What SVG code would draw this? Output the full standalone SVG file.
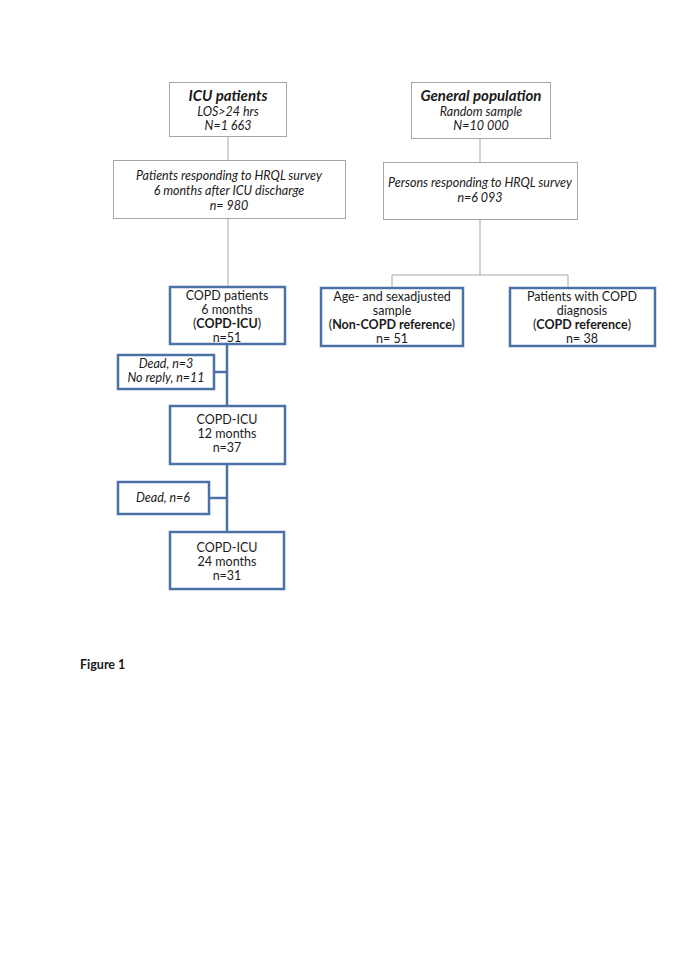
<svg xmlns="http://www.w3.org/2000/svg" width="685" height="969" viewBox="0 0 685 969">
<style>
text{font-family:Lato,"Open Sans","Liberation Sans",sans-serif;font-size:12.5px;fill:#1a1a1a;text-anchor:middle}
.i{font-style:italic}
.b{font-weight:bold}
.h{font-size:15px}
.g{fill:#fff;stroke:#a6a6a6;stroke-width:1}
.bl{fill:#fff;stroke:#4a72a6;stroke-width:2.5}
.cg{stroke:#a6a6a6;stroke-width:1;fill:none}
.cb{stroke:#4a72a6;stroke-width:2.5;fill:none}
</style>
<rect width="685" height="969" fill="#fff"/>
<g id="connectors">
<path class="cg" d="M228 136V160M228 218V287"/>
<path class="cg" d="M480 138V162M480 219V275M392 275H568M392 275V288M568 275V288"/>
<path class="cb" d="M227 344V406M214 372H227M227 464V532M209 498H227"/>
</g>
<g id="icu"><rect class="g" x="169.5" y="82.5" width="117" height="54"/>
<text x="228" y="101" class="i b h">ICU patients</text>
<text x="228" y="116" class="i">LOS&gt;24 hrs</text>
<text x="228" y="130" class="i">N=1 663</text></g>
<g id="resp"><rect class="g" x="113.5" y="160.5" width="232" height="58"/>
<text x="229" y="180" class="i">Patients responding to HRQL survey</text>
<text x="229" y="195" class="i">6 months after ICU discharge</text>
<text x="229" y="210" class="i">n= 980</text></g>
<g id="gen"><rect class="g" x="411.5" y="82.5" width="139" height="56"/>
<text x="481" y="101" class="i b h">General population</text>
<text x="481" y="116" class="i">Random sample</text>
<text x="481" y="130" class="i">N=10 000</text></g>
<g id="persons"><rect class="g" x="383.5" y="162.5" width="194" height="57"/>
<text x="480" y="187" class="i">Persons responding to HRQL survey</text>
<text x="480" y="202" class="i">n=6 093</text></g>
<g id="copd6"><rect class="bl" x="170" y="287" width="115" height="57"/>
<text x="227" y="299.5">COPD patients</text>
<text x="227" y="313.5">6 months</text>
<text x="227" y="327.5">(<tspan class="b">COPD-ICU</tspan>)</text>
<text x="227" y="341.5">n=51</text></g>
<g id="noncopd"><rect class="bl" x="321" y="288" width="142" height="58"/>
<text x="392" y="301">Age- and sexadjusted</text>
<text x="392" y="315">sample</text>
<text x="392" y="329">(<tspan class="b">Non-COPD reference</tspan>)</text>
<text x="392" y="343">n= 51</text></g>
<g id="copdref"><rect class="bl" x="510" y="288" width="145" height="58"/>
<text x="582" y="301">Patients with COPD</text>
<text x="582" y="315">diagnosis</text>
<text x="582" y="329">(<tspan class="b">COPD reference</tspan>)</text>
<text x="582" y="343">n= 38</text></g>
<g id="dead3"><rect class="bl" x="118" y="355" width="96" height="34"/>
<text x="166" y="368" class="i">Dead, n=3</text>
<text x="166" y="382" class="i">No reply, n=11</text></g>
<g id="copd12"><rect class="bl" x="170" y="406" width="115" height="58"/>
<text x="227" y="424">COPD-ICU</text>
<text x="227" y="438">12 months</text>
<text x="227" y="452">n=37</text></g>
<g id="dead6"><rect class="bl" x="118" y="482" width="91" height="32"/>
<text x="163" y="502" class="i">Dead, n=6</text></g>
<g id="copd24"><rect class="bl" x="170" y="532" width="114" height="57"/>
<text x="227" y="552">COPD-ICU</text>
<text x="227" y="566">24 months</text>
<text x="227" y="580">n=31</text></g>
<text x="80" y="669" class="b" style="text-anchor:start" font-size="12">Figure 1</text>
</svg>
